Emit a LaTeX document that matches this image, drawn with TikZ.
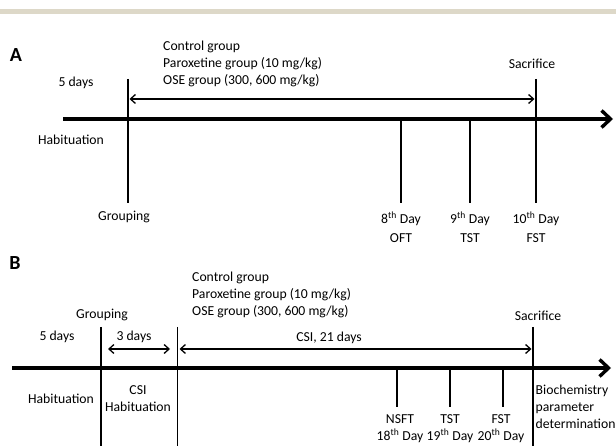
\documentclass[tikz,border=0pt]{standalone}
\usepackage{fontspec}
\setmainfont{Carlito}
\usepackage{tikz}
\usetikzlibrary{calc,arrows.meta}
\definecolor{bandgrey}{RGB}{221,216,200}
\tikzset{
   axisline/.style={line width=3.4pt, -{Straight Barb[length=9pt,width=17pt]}},
   markline/.style={line width=1.3pt},
   span/.style={line width=1.3pt,
           {Straight Barb[length=5pt,width=9pt]}-{Straight Barb[length=5pt,width=9pt]}},
}

\begin{document}
\begin{tikzpicture}[x=1pt,y=-1pt,
                    every node/.style={inner sep=0pt,font=\fontsize{13.7}{17}\selectfont},
                    panel/.style={font=\fontsize{20}{22}\selectfont\bfseries},
                    block/.style={align=left,anchor=west},
                    daylbl/.style={align=center}]
\useasboundingbox (0,0) rectangle (616,446);
\fill[bandgrey] (0,9) rectangle (616,14);
%
\begin{scope}
\node[panel] (A) at (16,55) {A};
\coordinate (a0) at (63,119);
\coordinate (a9) at (613,119);
\draw[axisline] (a0) -- (a9);
%
\coordinate (g1) at (128,79);   \coordinate (g2) at (128,203);
\coordinate (s1) at (536,79);   \coordinate (s2) at (536,203);
\coordinate (t1) at (401,119);  \coordinate (t2) at (401,203);
\coordinate (u1) at (470,119);  \coordinate (u2) at (470,203);
\draw[markline] (g1) -- (g2);
\draw[markline] (s1) -- (s2);
\draw[markline] (t1) -- (t2);
\draw[markline] (u1) -- (u2);
\coordinate (p1) at (129.5,99);
\coordinate (p2) at (534.5,99);
\draw[span] (p1) -- (p2);
%
\node (a5)   at (76,83)   {5 days};
\node (ahab) at (71,140)  {Habituation};
\node (agro) at (124,217) {Grouping};
\node (asac) at (532,64)  {Sacrifice};
\node[block] (agrp) at (163,63.5) {Control group\\Paroxetine group (10 mg/kg)\\OSE group (300, 600 mg/kg)};
\node[daylbl] (d8)  at (401,227) {8\textsuperscript{th} Day\\[2pt]OFT};
\node[daylbl] (d9)  at (470,227) {9\textsuperscript{th} Day\\[2pt]TST};
\node[daylbl] (d10) at (536,227) {10\textsuperscript{th} Day\\[2pt]FST};
\end{scope}
%
\begin{scope}
\node[panel] (B) at (15,263) {B};
\coordinate (b0) at (12,368);
\coordinate (b9) at (611,368);
\draw[axisline] (b0) -- (b9);
%
\coordinate (h1) at (101,327);   \coordinate (h2) at (101,446);
\coordinate (c1) at (177.5,327); \coordinate (c2) at (177.5,446);
\coordinate (k1) at (533,327);   \coordinate (k2) at (533,446);
\coordinate (n1) at (397,368);   \coordinate (n2) at (397,407);
\coordinate (m1) at (450,368);   \coordinate (m2) at (450,407);
\coordinate (f1) at (503,368);   \coordinate (f2) at (503,407);
\draw[markline] (h1) -- (h2);
\draw[markline] (c1) -- (c2);
\draw[markline] (k1) -- (k2);
\draw[markline] (n1) -- (n2);
\draw[markline] (m1) -- (m2);
\draw[markline] (f1) -- (f2);
\coordinate (q1) at (108,349);   \coordinate (q2) at (170,349);
\coordinate (r1) at (179.5,349); \coordinate (r2) at (531.5,349);
\draw[span] (q1) -- (q2);
\draw[span] (r1) -- (r2);
%
\node (b5)   at (57,337)  {5 days};
\node (b3)   at (134,337) {3 days};
\node (bcsi) at (329,338) {CSI, 21 days};
\node (bgro) at (102,315) {Grouping};
\node (bsac) at (538,316) {Sacrifice};
\node[block] (bgrp) at (192,295) {Control group\\Paroxetine group (10 mg/kg)\\OSE group (300, 600 mg/kg)};
\node (bhab) at (61,399) {Habituation};
\node[daylbl] (bch) at (138,399) {CSI\\Habituation};
\node[daylbl] (e18) at (400,429) {NSFT\\18\textsuperscript{th} Day};
\node[daylbl] (e19) at (450,429) {TST\\19\textsuperscript{th} Day};
\node[daylbl] (e20) at (501,429) {FST\\20\textsuperscript{th} Day};
\node[block] (bbio) at (535.5,407) {Biochemistry\\parameter\\determination};
\end{scope}
\end{tikzpicture}
\end{document}
